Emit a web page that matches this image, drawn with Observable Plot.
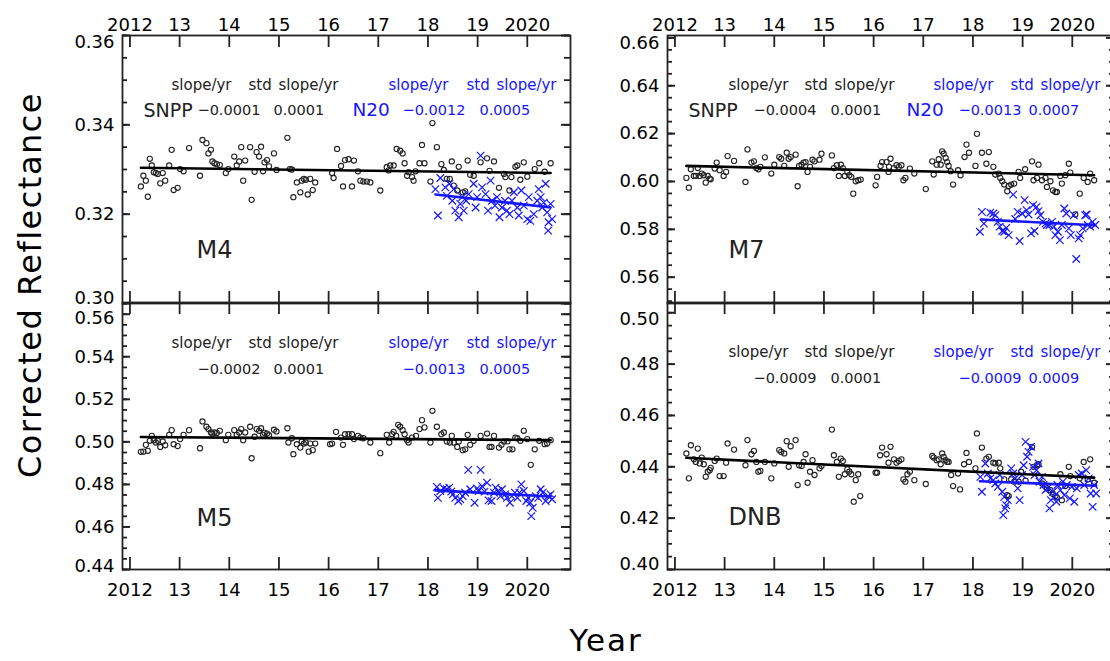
<!DOCTYPE html>
<html><head><meta charset="utf-8">
<script src="https://cdn.jsdelivr.net/npm/d3@7"></script>
<script src="https://cdn.jsdelivr.net/npm/@observablehq/plot@0.6"></script>
<style>
html,body{margin:0;padding:0;background:#fff;overflow:hidden;}
#wrap{position:relative;width:1110px;height:661px;overflow:hidden;font-family:"DejaVu Sans",sans-serif;color:#000;}
.panel{position:absolute;}
#ylab{position:absolute;left:30px;top:285px;transform:translate(-50%,-50%) rotate(-90deg);font-size:32px;line-height:1;letter-spacing:1.5px;white-space:nowrap;}
#xlab{position:absolute;left:606px;top:640px;transform:translate(-50%,-50%);font-size:31px;line-height:1;letter-spacing:2px;white-space:nowrap;}
</style></head><body>
<div id="wrap"><div id="ylab">Corrected Reflectance</div><div id="xlab">Year</div></div>
<script>
// ---------- tick values / labels ----------
const yearTicks = [2012, 2013, 2014, 2015, 2016, 2017, 2018, 2019, 2020];
const yearTickLabels = ["2012", "13", "14", "15", "16", "17", "18", "19", "2020"];
const xDomain = [2011.85, 2020.87];

const m4YTicks = [0.30, 0.32, 0.34, 0.36];
const m5YTicks = [0.44, 0.46, 0.48, 0.50, 0.52, 0.54, 0.56];
const m7YTicks = [0.56, 0.58, 0.60, 0.62, 0.64, 0.66];
const dnbYTicks = [0.40, 0.42, 0.44, 0.46, 0.48, 0.50];

const statHeader = ["slope/yr", "std", "slope/yr"];
// [snpp label, snpp slope, snpp std, n20 label, n20 slope, n20 std]
const m4Stats = ["SNPP", "\u22120.0001", "0.0001", "N20", "\u22120.0012", "0.0005"];
const m5Stats = ["", "\u22120.0002", "0.0001", "", "\u22120.0013", "0.0005"];
const m7Stats = ["SNPP", "\u22120.0004", "0.0001", "N20", "\u22120.0013", "0.0007"];
const dnbStats = ["", "\u22120.0009", "0.0001", "", "\u22120.0009", "0.0009"];

// ---------- M4 ----------
const m4Snpp = [[2012.22,0.3262],[2012.27,0.3286],[2012.32,0.3275],[2012.36,0.3239],[2012.40,0.3324],[2012.44,0.3309],[2012.48,0.3294],[2012.52,0.3292],[2012.56,0.3290],[2012.61,0.3269],[2012.66,0.3292],[2012.71,0.3275],[2012.79,0.3309],[2012.84,0.3344],[2012.88,0.3254],[2012.96,0.3259],[2013.01,0.3301],[2013.08,0.3296],[2013.19,0.3348],[2013.41,0.3286],[2013.46,0.3366],[2013.54,0.3359],[2013.58,0.3336],[2013.63,0.3344],[2013.66,0.3318],[2013.70,0.3314],[2013.75,0.3312],[2013.81,0.3310],[2013.93,0.3292],[2013.98,0.3301],[2014.10,0.3329],[2014.15,0.3309],[2014.20,0.3318],[2014.24,0.3350],[2014.28,0.3275],[2014.32,0.3320],[2014.42,0.3350],[2014.45,0.3232],[2014.51,0.3295],[2014.55,0.3339],[2014.60,0.3329],[2014.64,0.3351],[2014.68,0.3296],[2014.71,0.3316],[2014.76,0.3321],[2014.80,0.3307],[2014.90,0.3336],[2014.95,0.3299],[2015.17,0.3371],[2015.22,0.3301],[2015.26,0.3300],[2015.29,0.3238],[2015.36,0.3271],[2015.43,0.3249],[2015.46,0.3275],[2015.50,0.3279],[2015.54,0.3277],[2015.58,0.3244],[2015.63,0.3279],[2015.68,0.3254],[2015.73,0.3271],[2016.07,0.3292],[2016.10,0.3281],[2016.17,0.3346],[2016.25,0.3308],[2016.29,0.3262],[2016.33,0.3321],[2016.40,0.3323],[2016.47,0.3262],[2016.51,0.3320],[2016.59,0.3296],[2016.64,0.3275],[2016.70,0.3273],[2016.77,0.3273],[2016.84,0.3271],[2017.04,0.3253],[2017.17,0.3305],[2017.21,0.3298],[2017.24,0.3309],[2017.31,0.3309],[2017.37,0.3346],[2017.44,0.3342],[2017.49,0.3336],[2017.53,0.3314],[2017.58,0.3286],[2017.61,0.3294],[2017.68,0.3283],[2017.71,0.3275],[2017.75,0.3296],[2017.83,0.3314],[2017.88,0.3355],[2017.93,0.3314],[2018.05,0.3273],[2018.09,0.3404],[2018.18,0.3350],[2018.27,0.3312],[2018.32,0.3299],[2018.38,0.3279],[2018.44,0.3279],[2018.48,0.3318],[2018.52,0.3264],[2018.59,0.3253],[2018.62,0.3306],[2018.70,0.3249],[2018.75,0.3251],[2018.80,0.3320],[2018.85,0.3288],[2018.92,0.3286],[2019.06,0.3316],[2019.19,0.3325],[2019.24,0.3297],[2019.33,0.3318],[2019.43,0.3259],[2019.53,0.3290],[2019.56,0.3283],[2019.64,0.3253],[2019.68,0.3283],[2019.76,0.3306],[2019.80,0.3309],[2019.86,0.3277],[2019.93,0.3316],[2020.00,0.3284],[2020.15,0.3301],[2020.24,0.3314],[2020.35,0.3295],[2020.47,0.3314]];
const m4N20 = [[2018.15,0.3256],[2018.25,0.3281],[2018.20,0.3197],[2018.35,0.3260],[2018.38,0.3241],[2018.43,0.3268],[2018.49,0.3230],[2018.52,0.3256],[2018.55,0.3208],[2018.62,0.3193],[2018.65,0.3223],[2018.69,0.3238],[2018.72,0.3208],[2018.77,0.3230],[2018.82,0.3245],[2018.92,0.3268],[2018.96,0.3215],[2018.99,0.3238],[2019.06,0.3331],[2019.09,0.3260],[2019.16,0.3245],[2019.21,0.3208],[2019.26,0.3275],[2019.29,0.3230],[2019.35,0.3219],[2019.39,0.3238],[2019.44,0.3193],[2019.49,0.3215],[2019.55,0.3230],[2019.59,0.3208],[2019.64,0.3200],[2019.69,0.3230],[2019.73,0.3249],[2019.80,0.3215],[2019.83,0.3197],[2019.88,0.3253],[2019.93,0.3219],[2020.00,0.3189],[2020.03,0.3238],[2020.06,0.3185],[2020.13,0.3200],[2020.20,0.3230],[2020.23,0.3256],[2020.27,0.3238],[2020.30,0.3215],[2020.33,0.3226],[2020.37,0.3268],[2020.40,0.3204],[2020.42,0.3163],[2020.43,0.3182],[2020.47,0.3223],[2020.50,0.3189]];
const m4SnppTrend = [[2012.22,0.3304],[2020.47,0.3292]];
const m4N20Trend = [[2018.15,0.3244],[2020.47,0.3215]];

// ---------- M5 ----------
const m5Snpp = [[2012.22,0.4953],[2012.27,0.4954],[2012.32,0.4986],[2012.36,0.4958],[2012.40,0.5005],[2012.44,0.5028],[2012.48,0.5008],[2012.52,0.4997],[2012.56,0.5005],[2012.61,0.4976],[2012.66,0.5002],[2012.71,0.4984],[2012.79,0.5033],[2012.84,0.5055],[2012.88,0.4989],[2012.96,0.4980],[2013.01,0.5013],[2013.08,0.5033],[2013.19,0.5055],[2013.41,0.4970],[2013.46,0.5096],[2013.54,0.5071],[2013.58,0.5060],[2013.63,0.5044],[2013.66,0.5039],[2013.70,0.5044],[2013.75,0.5042],[2013.81,0.5052],[2013.93,0.5008],[2013.98,0.5033],[2014.10,0.5055],[2014.15,0.5033],[2014.20,0.5044],[2014.24,0.5060],[2014.28,0.5008],[2014.32,0.5044],[2014.42,0.5071],[2014.45,0.4923],[2014.51,0.5024],[2014.55,0.5060],[2014.60,0.5052],[2014.64,0.5064],[2014.68,0.5033],[2014.71,0.5042],[2014.76,0.5039],[2014.80,0.5031],[2014.90,0.5057],[2014.95,0.5049],[2015.17,0.5064],[2015.19,0.4997],[2015.26,0.5017],[2015.29,0.4942],[2015.36,0.4989],[2015.43,0.4973],[2015.46,0.5002],[2015.50,0.4992],[2015.54,0.4997],[2015.60,0.4954],[2015.63,0.4992],[2015.68,0.4961],[2015.73,0.4992],[2016.03,0.4989],[2016.07,0.4992],[2016.15,0.5047],[2016.25,0.5020],[2016.29,0.4986],[2016.33,0.5036],[2016.40,0.5036],[2016.47,0.5036],[2016.51,0.5013],[2016.59,0.5028],[2016.64,0.5020],[2016.70,0.5017],[2016.84,0.4997],[2017.04,0.4947],[2017.17,0.5033],[2017.22,0.4997],[2017.28,0.5036],[2017.31,0.5047],[2017.36,0.5028],[2017.40,0.5080],[2017.44,0.5071],[2017.49,0.5055],[2017.53,0.5036],[2017.58,0.5008],[2017.61,0.4997],[2017.68,0.5020],[2017.76,0.5028],[2017.83,0.5060],[2017.88,0.5102],[2017.93,0.5068],[2018.05,0.4997],[2018.09,0.5146],[2018.18,0.5071],[2018.27,0.5036],[2018.32,0.5044],[2018.38,0.5002],[2018.44,0.4997],[2018.48,0.5028],[2018.52,0.4997],[2018.59,0.4976],[2018.62,0.5002],[2018.70,0.4961],[2018.75,0.4965],[2018.80,0.5033],[2018.85,0.4986],[2018.92,0.5005],[2019.06,0.5028],[2019.19,0.5039],[2019.24,0.4976],[2019.28,0.4976],[2019.33,0.5028],[2019.43,0.4973],[2019.48,0.4986],[2019.53,0.5002],[2019.60,0.5002],[2019.64,0.4965],[2019.70,0.4965],[2019.76,0.5020],[2019.80,0.5017],[2019.86,0.5005],[2019.93,0.5052],[2020.00,0.5013],[2020.07,0.4892],[2020.15,0.4965],[2020.24,0.5005],[2020.35,0.4989],[2020.40,0.4992],[2020.47,0.5008]];
const m5N20 = [[2018.18,0.4788],[2018.20,0.4737],[2018.25,0.4769],[2018.32,0.4781],[2018.38,0.4777],[2018.43,0.4785],[2018.47,0.4766],[2018.50,0.4753],[2018.55,0.4737],[2018.61,0.4722],[2018.65,0.4730],[2018.70,0.4745],[2018.75,0.4761],[2018.81,0.4868],[2018.85,0.4777],[2018.94,0.4714],[2018.99,0.4781],[2019.02,0.4769],[2019.06,0.4868],[2019.09,0.4792],[2019.14,0.4766],[2019.19,0.4808],[2019.22,0.4725],[2019.28,0.4722],[2019.33,0.4761],[2019.36,0.4785],[2019.41,0.4769],[2019.46,0.4745],[2019.49,0.4777],[2019.55,0.4753],[2019.59,0.4737],[2019.65,0.4714],[2019.69,0.4745],[2019.75,0.4761],[2019.80,0.4737],[2019.84,0.4761],[2019.88,0.4800],[2019.93,0.4769],[2019.98,0.4722],[2020.02,0.4737],[2020.06,0.4714],[2020.11,0.4690],[2020.08,0.4651],[2020.17,0.4745],[2020.22,0.4737],[2020.27,0.4777],[2020.31,0.4761],[2020.37,0.4722],[2020.42,0.4745],[2020.47,0.4753],[2020.50,0.4730]];
const m5SnppTrend = [[2012.22,0.5023],[2020.47,0.5008]];
const m5N20Trend = [[2018.15,0.4772],[2020.47,0.4743]];

// ---------- M7 ----------
const m7Snpp = [[2012.23,0.6015],[2012.28,0.5974],[2012.32,0.6051],[2012.38,0.6023],[2012.42,0.6023],[2012.46,0.6056],[2012.50,0.6023],[2012.54,0.6033],[2012.58,0.6026],[2012.62,0.5995],[2012.66,0.6023],[2012.70,0.6012],[2012.72,0.6009],[2012.80,0.6054],[2012.84,0.6079],[2012.90,0.6047],[2012.98,0.6023],[2013.03,0.6040],[2013.06,0.6106],[2013.19,0.6086],[2013.42,0.5998],[2013.46,0.6134],[2013.54,0.6079],[2013.59,0.6084],[2013.64,0.6056],[2013.68,0.6051],[2013.72,0.6061],[2013.81,0.6101],[2013.94,0.6033],[2014.00,0.6070],[2014.10,0.6102],[2014.14,0.6095],[2014.20,0.6065],[2014.25,0.6120],[2014.29,0.6095],[2014.33,0.6102],[2014.43,0.6112],[2014.47,0.5980],[2014.50,0.6065],[2014.55,0.6070],[2014.59,0.6079],[2014.63,0.6081],[2014.67,0.6040],[2014.72,0.6061],[2014.77,0.6091],[2014.81,0.6084],[2014.91,0.6091],[2014.95,0.6116],[2015.16,0.6109],[2015.20,0.6056],[2015.26,0.6068],[2015.30,0.6023],[2015.34,0.6070],[2015.38,0.6056],[2015.42,0.6023],[2015.47,0.6040],[2015.51,0.6026],[2015.55,0.6019],[2015.59,0.5949],[2015.64,0.6001],[2015.69,0.6005],[2015.74,0.6008],[2016.04,0.5984],[2016.07,0.6019],[2016.14,0.6065],[2016.17,0.6081],[2016.26,0.6081],[2016.30,0.6040],[2016.31,0.6061],[2016.34,0.6095],[2016.41,0.6056],[2016.46,0.6068],[2016.51,0.6061],[2016.56,0.6068],[2016.60,0.6005],[2016.64,0.6015],[2016.73,0.6054],[2016.82,0.6033],[2017.05,0.5968],[2017.18,0.6084],[2017.21,0.6029],[2017.27,0.6070],[2017.31,0.6093],[2017.35,0.6070],[2017.38,0.6126],[2017.41,0.6116],[2017.45,0.6098],[2017.48,0.6081],[2017.51,0.6065],[2017.55,0.6043],[2017.60,0.5987],[2017.70,0.6047],[2017.75,0.6026],[2017.83,0.6102],[2017.87,0.6154],[2017.92,0.6120],[2018.05,0.6065],[2018.08,0.6199],[2018.18,0.6120],[2018.27,0.6074],[2018.32,0.6123],[2018.41,0.6061],[2018.45,0.6029],[2018.52,0.6033],[2018.55,0.6015],[2018.59,0.6001],[2018.63,0.5987],[2018.69,0.5959],[2018.72,0.5981],[2018.77,0.5987],[2018.83,0.5991],[2018.92,0.6040],[2018.95,0.6015],[2019.05,0.6051],[2019.19,0.6084],[2019.22,0.6005],[2019.29,0.6015],[2019.32,0.6070],[2019.39,0.6005],[2019.46,0.6015],[2019.49,0.5977],[2019.56,0.6001],[2019.61,0.5963],[2019.66,0.5956],[2019.69,0.5956],[2019.76,0.6023],[2019.79,0.5991],[2019.86,0.6026],[2019.93,0.6074],[2019.96,0.6037],[2020.06,0.5862],[2020.15,0.5949],[2020.23,0.6015],[2020.31,0.5998],[2020.36,0.6033],[2020.44,0.6005]];
const m7N20 = [[2018.18,0.5873],[2018.14,0.5790],[2018.22,0.5824],[2018.35,0.5870],[2018.41,0.5866],[2018.45,0.5859],[2018.50,0.5831],[2018.54,0.5811],[2018.59,0.5793],[2018.63,0.5790],[2018.67,0.5806],[2018.72,0.5776],[2018.81,0.5945],[2018.85,0.5843],[2018.90,0.5873],[2018.94,0.5751],[2018.99,0.5866],[2019.04,0.5922],[2019.08,0.5880],[2019.12,0.5862],[2019.17,0.5783],[2019.21,0.5901],[2019.24,0.5793],[2019.28,0.5894],[2019.32,0.5876],[2019.36,0.5859],[2019.41,0.5831],[2019.46,0.5824],[2019.49,0.5818],[2019.54,0.5818],[2019.59,0.5831],[2019.63,0.5811],[2019.66,0.5776],[2019.71,0.5790],[2019.75,0.5755],[2019.79,0.5818],[2019.84,0.5887],[2019.88,0.5866],[2019.93,0.5804],[2019.97,0.5776],[2020.03,0.5859],[2020.08,0.5676],[2020.13,0.5762],[2020.16,0.5776],[2020.21,0.5804],[2020.26,0.5859],[2020.29,0.5862],[2020.31,0.5818],[2020.36,0.5811],[2020.41,0.5831],[2020.46,0.5818]];
const m7SnppTrend = [[2012.23,0.6065],[2020.44,0.6026]];
const m7N20Trend = [[2018.16,0.5841],[2020.46,0.5817]];

// ---------- DNB ----------
const dnbSnpp = [[2012.23,0.4452],[2012.28,0.4355],[2012.32,0.4484],[2012.38,0.4429],[2012.42,0.4419],[2012.46,0.4471],[2012.50,0.4413],[2012.54,0.4436],[2012.58,0.4410],[2012.62,0.4361],[2012.66,0.4381],[2012.70,0.4387],[2012.72,0.4396],[2012.80,0.4423],[2012.84,0.4432],[2012.90,0.4364],[2012.98,0.4364],[2013.03,0.4416],[2013.06,0.4491],[2013.19,0.4467],[2013.42,0.4406],[2013.46,0.4504],[2013.54,0.4449],[2013.59,0.4462],[2013.64,0.4419],[2013.68,0.4381],[2013.72,0.4384],[2013.81,0.4419],[2013.94,0.4355],[2014.00,0.4413],[2014.10,0.4465],[2014.14,0.4458],[2014.20,0.4452],[2014.25,0.4500],[2014.29,0.4400],[2014.33,0.4480],[2014.43,0.4504],[2014.47,0.4329],[2014.50,0.4406],[2014.55,0.4403],[2014.59,0.4419],[2014.63,0.4449],[2014.67,0.4338],[2014.72,0.4381],[2014.77,0.4426],[2014.81,0.4368],[2014.91,0.4394],[2014.95,0.4403],[2015.16,0.4545],[2015.20,0.4445],[2015.26,0.4419],[2015.30,0.4361],[2015.34,0.4432],[2015.38,0.4423],[2015.42,0.4371],[2015.47,0.4390],[2015.51,0.4381],[2015.55,0.4371],[2015.60,0.4264],[2015.64,0.4348],[2015.69,0.4371],[2015.73,0.4286],[2016.04,0.4377],[2016.07,0.4377],[2016.13,0.4445],[2016.17,0.4475],[2016.26,0.4449],[2016.30,0.4416],[2016.34,0.4478],[2016.41,0.4429],[2016.46,0.4416],[2016.51,0.4423],[2016.56,0.4429],[2016.60,0.4351],[2016.64,0.4342],[2016.68,0.4371],[2016.73,0.4381],[2016.82,0.4348],[2017.05,0.4333],[2017.18,0.4442],[2017.21,0.4436],[2017.27,0.4426],[2017.31,0.4429],[2017.35,0.4410],[2017.38,0.4452],[2017.41,0.4439],[2017.45,0.4426],[2017.48,0.4419],[2017.51,0.4419],[2017.56,0.4368],[2017.60,0.4325],[2017.70,0.4374],[2017.74,0.4312],[2017.82,0.4410],[2017.87,0.4454],[2017.92,0.4419],[2018.05,0.4394],[2018.08,0.4530],[2018.18,0.4475],[2018.27,0.4432],[2018.32,0.4439],[2018.41,0.4416],[2018.45,0.4413],[2018.52,0.4416],[2018.55,0.4394],[2018.63,0.4351],[2018.69,0.4290],[2018.72,0.4286],[2018.77,0.4351],[2018.83,0.4342],[2018.92,0.4342],[2018.97,0.4381],[2019.06,0.4346],[2019.19,0.4478],[2019.22,0.4400],[2019.29,0.4406],[2019.32,0.4410],[2019.39,0.4335],[2019.46,0.4322],[2019.49,0.4316],[2019.56,0.4309],[2019.61,0.4294],[2019.66,0.4286],[2019.69,0.4281],[2019.76,0.4371],[2019.79,0.4270],[2019.86,0.4325],[2019.93,0.4400],[2019.96,0.4364],[2020.06,0.4322],[2020.15,0.4355],[2020.23,0.4419],[2020.31,0.4351],[2020.36,0.4429],[2020.44,0.4338]];
const dnbN20 = [[2018.15,0.4361],[2018.18,0.4303],[2018.25,0.4413],[2018.30,0.4374],[2018.35,0.4355],[2018.41,0.4348],[2018.45,0.4335],[2018.50,0.4322],[2018.54,0.4368],[2018.59,0.4303],[2018.61,0.4212],[2018.63,0.4283],[2018.65,0.4238],[2018.67,0.4251],[2018.70,0.4270],[2018.77,0.4394],[2018.81,0.4374],[2018.85,0.4355],[2018.90,0.4316],[2018.94,0.4270],[2018.99,0.4368],[2019.02,0.4406],[2019.06,0.4497],[2019.09,0.4439],[2019.12,0.4458],[2019.17,0.4478],[2019.21,0.4400],[2019.24,0.4368],[2019.28,0.4387],[2019.32,0.4413],[2019.34,0.4342],[2019.39,0.4361],[2019.42,0.4329],[2019.46,0.4309],[2019.50,0.4316],[2019.54,0.4238],[2019.57,0.4270],[2019.61,0.4303],[2019.64,0.4283],[2019.68,0.4264],[2019.70,0.4329],[2019.76,0.4309],[2019.81,0.4342],[2019.84,0.4290],[2019.89,0.4329],[2019.95,0.4277],[2019.99,0.4322],[2020.04,0.4264],[2020.09,0.4316],[2020.13,0.4368],[2020.19,0.4374],[2020.24,0.4329],[2020.28,0.4387],[2020.33,0.4355],[2020.37,0.4296],[2020.41,0.4244],[2020.44,0.4329],[2020.48,0.4296]];
const dnbSnppTrend = [[2012.23,0.4435],[2020.44,0.4358]];
const dnbN20Trend = [[2018.14,0.4344],[2020.48,0.4326]];

// ---------- drawing ----------
const BLUE = "#1616ff";
const INK = "#222";
const FONT = "DejaVu Sans";

function minorTicks(dom) {
  const a = Math.ceil(dom[0] / 0.005 - 1e-6), b = Math.floor(dom[1] / 0.005 + 1e-6);
  return d3.range(a, b + 1).map(i => +(i * 0.005).toFixed(3));
}

function panel(cfg) {
  const {snpp, n20, snppTrend, n20Trend, yDomain, yTicks, band, stats, xLabelAnchor, lay} = cfg;
  const fmt = d3.format(".2f");
  const yr = d => d[0], val = d => d[1];
  const fw = lay.width - lay.mL - lay.mR;   // frame width in px
  const fh = lay.height - lay.mT - lay.mB;  // frame height in px
  const minors = minorTicks(yDomain);
  const txt = (label, dx, dy, fill, fontSize) =>
    Plot.text([label], {frameAnchor: "top-left", text: d => d, dx, dy, textAnchor: "start",
      lineAnchor: "middle", fill, fontSize, fontFamily: FONT});
  const ylab = (ticks, dy) => Plot.axisY(ticks, {anchor: "left", tickSize: 0, tickPadding: 8, tickFormat: fmt,
      label: null, fontSize: 18, fill: "#000", dy});
  const marks = [
    // inward ticks on all four sides
    Plot.tickY(yTicks, {y: d => d, insetRight: fw - 8, stroke: INK, strokeWidth: 2}),
    Plot.tickY(minors, {y: d => d, insetRight: fw - 5, stroke: INK, strokeWidth: 1.8}),
    Plot.tickY(yTicks, {y: d => d, insetLeft: fw - 9, stroke: INK, strokeWidth: 2}),
    Plot.tickY(minors, {y: d => d, insetLeft: fw - 6, stroke: INK, strokeWidth: 1.8}),
    Plot.tickX(yearTicks, {x: d => d, insetTop: fh - 12, stroke: INK, strokeWidth: 1.8}),
    Plot.tickX(yearTicks, {x: d => d, insetBottom: fh - 12, stroke: INK, strokeWidth: 1.8}),
    Plot.frame({stroke: INK, strokeWidth: 1.8}),
    // tick labels
    ylab(yTicks.slice(1, -1), 0),
    ylab([yTicks[0]], lay.yLabBottomDy),
    ylab([yTicks[yTicks.length - 1]], lay.yLabTopDy),
    Plot.axisX(yearTicks, {anchor: xLabelAnchor, tickSize: 0, tickPadding: xLabelAnchor === "top" ? 5 : 14,
      tickFormat: d => yearTickLabels[yearTicks.indexOf(d)], label: null, fontSize: 18, fill: "#000"}),
    // data
    Plot.dot(snpp, {x: yr, y: val, r: 2.6, stroke: INK, strokeWidth: 1.1, fill: "none"}),
    Plot.dot(n20, {x: yr, y: val, symbol: "times", r: 3.5, stroke: BLUE, strokeWidth: 1.2}),
    Plot.line(snppTrend, {x: yr, y: val, stroke: "#000", strokeWidth: 2.6}),
    Plot.line(n20Trend, {x: yr, y: val, stroke: BLUE, strokeWidth: 2.6}),
    // annotations
    ...statHeader.map((s, i) => txt(s, lay.hdrBlack[i], lay.hdrDy, INK, 15)),
    ...statHeader.map((s, i) => txt(s, lay.hdrBlue[i], lay.hdrDy, BLUE, 15)),
    txt(stats[0], lay.num[0], lay.numDy, INK, 19),
    txt(stats[1], lay.num[1], lay.numDy, INK, 14.5),
    txt(stats[2], lay.num[2], lay.numDy, INK, 14.5),
    txt(stats[3], lay.num[3], lay.numDy, BLUE, 18.5),
    txt(stats[4], lay.num[4], lay.numDy, BLUE, 14.5),
    txt(stats[5], lay.num[5], lay.numDy, BLUE, 14.5),
    txt(band, lay.bandDx, lay.bandDy, INK, 24)
  ];
  const svg = Plot.plot({
    width: lay.width, height: lay.height,
    marginLeft: lay.mL, marginRight: lay.mR, marginTop: lay.mT, marginBottom: lay.mB,
    x: {domain: xDomain},
    y: {domain: yDomain},
    style: {background: "transparent", overflow: "visible", maxWidth: "none", fontFamily: FONT, fontSize: "17px", color: "#000"},
    marks
  });
  const div = document.createElement("div");
  div.className = "panel";
  div.style.left = lay.left + "px";
  div.style.top = lay.top + "px";
  div.style.width = lay.width + "px";
  div.appendChild(svg);
  document.getElementById("wrap").appendChild(div);
}

const leftHdr = {hdrBlack: [49, 126, 156], hdrBlue: [266, 344, 374], num: [21, 75, 151, 230, 280, 357]};
const rightHdr = {hdrBlack: [61, 137, 167], hdrBlue: [266, 343, 373], num: [21, 86, 163, 239, 291, 361]};

panel({snpp: m4Snpp, n20: m4N20, snppTrend: m4SnppTrend, n20Trend: m4N20Trend,
  yDomain: [0.30, 0.36], yTicks: m4YTicks, band: "M4", stats: m4Stats, xLabelAnchor: "top",
  lay: {...leftHdr, left: 0, top: 0, width: 590, height: 310, mL: 122, mR: 20, mT: 35, mB: 7,
    hdrDy: 50, numDy: 75, bandDx: 74, bandDy: 215, yLabTopDy: 7, yLabBottomDy: -5}});
panel({snpp: m5Snpp, n20: m5N20, snppTrend: m5SnppTrend, n20Trend: m5N20Trend,
  yDomain: [0.44, 0.5655], yTicks: m5YTicks, band: "M5", stats: m5Stats, xLabelAnchor: "bottom",
  lay: {...leftHdr, left: 0, top: 290, width: 590, height: 340, mL: 122, mR: 20, mT: 12, mB: 61,
    hdrDy: 41, numDy: 67, bandDx: 74, bandDy: 216, yLabTopDy: 4, yLabBottomDy: -3}});
panel({snpp: m7Snpp, n20: m7N20, snppTrend: m7SnppTrend, n20Trend: m7N20Trend,
  yDomain: [0.549, 0.661], yTicks: m7YTicks, band: "M7", stats: m7Stats, xLabelAnchor: "top",
  lay: {...rightHdr, left: 600, top: 0, width: 530, height: 310, mL: 67, mR: 15, mT: 35, mB: 7,
    hdrDy: 50, numDy: 75, bandDx: 61, bandDy: 215, yLabTopDy: 5, yLabBottomDy: 0}});
panel({snpp: dnbSnpp, n20: dnbN20, snppTrend: dnbSnppTrend, n20Trend: dnbN20Trend,
  yDomain: [0.40, 0.504], yTicks: dnbYTicks, band: "DNB", stats: dnbStats, xLabelAnchor: "bottom",
  lay: {...rightHdr, left: 600, top: 290, width: 530, height: 340, mL: 67, mR: 15, mT: 12, mB: 61,
    hdrDy: 50, numDy: 76, bandDx: 61, bandDy: 215, yLabTopDy: 6, yLabBottomDy: -5}});
</script>
</body></html>
